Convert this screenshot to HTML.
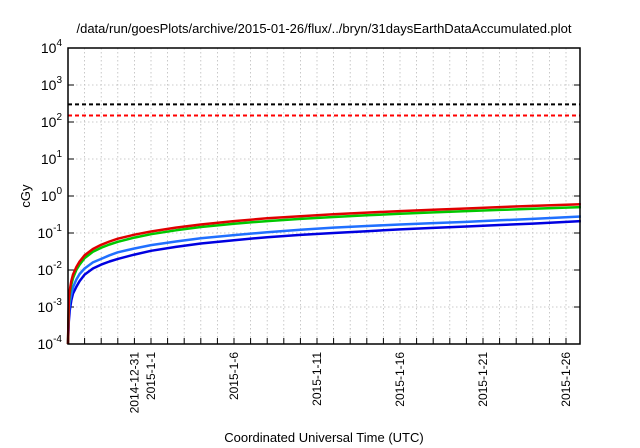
<!DOCTYPE html>
<html><head><meta charset="utf-8"><style>
body{margin:0;background:#fff;}
svg{display:block;font-family:"Liberation Sans",sans-serif;}
</style></head><body>
<svg id="chart" width="640" height="448" viewBox="0 0 640 448" xmlns="http://www.w3.org/2000/svg">
<text x="324" y="33" font-size="13" text-anchor="middle">/data/run/goesPlots/archive/2015-01-26/flux/../bryn/31daysEarthDataAccumulated.plot</text>
<text transform="translate(30,196) rotate(-90)" font-size="13" text-anchor="middle">cGy</text>
<text x="324" y="442" font-size="13" text-anchor="middle">Coordinated Universal Time (UTC)</text>
<g id="grid"></g><g id="ticks"></g><g id="series"></g>
<rect x="68" y="48" width="512" height="296" fill="none" stroke="#000" stroke-width="1.5"/>
</svg>
<script>
const days=[0,0.05,0.1,0.2,0.3,0.5,0.7,1,1.5,2,2.5,3,4,5,6.5,8,10,12,14,16,18,20,22,24,26,28,30.9];
const redSeries=[0.0001,0.0015,0.0028,0.005,0.0075,0.012,0.017,0.025,0.037,0.048,0.059,0.07,0.09,0.11,0.14,0.17,0.21,0.25,0.285,0.32,0.355,0.39,0.425,0.46,0.5,0.54,0.6];
const greenSeries=[0.0001,0.0012,0.0022,0.004,0.006,0.01,0.014,0.021,0.031,0.04,0.049,0.058,0.075,0.093,0.118,0.145,0.178,0.21,0.24,0.27,0.3,0.33,0.36,0.39,0.42,0.45,0.5];
const lightBlueSeries=[0.0001,0.0007,0.0013,0.0022,0.0034,0.0055,0.0078,0.011,0.016,0.02,0.025,0.03,0.038,0.047,0.059,0.072,0.088,0.105,0.122,0.14,0.155,0.17,0.185,0.2,0.22,0.24,0.28];
const darkBlueSeries=[0.0001,0.0004,0.0008,0.0015,0.0023,0.0035,0.005,0.0075,0.011,0.014,0.017,0.02,0.026,0.033,0.042,0.052,0.064,0.077,0.089,0.1,0.112,0.125,0.137,0.15,0.165,0.18,0.21];
const thresholds=[300,150];
const yExps=[-4,-3,-2,-1,0,1,2,3,4];
const xLabels=[[4,"2014-12-31"],[5,"2015-1-1"],[10,"2015-1-6"],[15,"2015-1-11"],[20,"2015-1-16"],[25,"2015-1-21"],[30,"2015-1-26"]];
const NS="http://www.w3.org/2000/svg";
const L=68,R=580,T=48,B=344;
const perDay=16.6;
function xs(d){return L+d*perDay;}
function ys(v){return T+(4-Math.log10(v))*(B-T)/8;}
function mk(tag,attrs,parent){const e=document.createElementNS(NS,tag);for(const k in attrs)e.setAttribute(k,attrs[k]);document.getElementById(parent).appendChild(e);return e;}
for(let d=1;d<=30;d++){
 const x=xs(d);
 const g=mk('line',{x1:x,x2:x,y1:T,y2:B,stroke:'#bbb','stroke-width':0.8,'stroke-dasharray':'1.5,2.5'},'grid');
 
 
 const t=mk('line',{x1:x,x2:x,y1:B,y2:B-6,stroke:'#000','stroke-width':1},'ticks');
 
 
}
yExps.forEach(e=>{
 const y=ys(Math.pow(10,e));
 if(e>-4&&e<4){const g=mk('line',{x1:L,x2:R,y1:y,y2:y,stroke:'#bbb','stroke-width':0.8,'stroke-dasharray':'1.5,2.5'},'grid');
 
 
 const t1=mk('line',{x1:L,x2:L+6,y1:y,y2:y,stroke:'#000'},'ticks');
 
 
 const t2=mk('line',{x1:R,x2:R-6,y1:y,y2:y,stroke:'#000'},'ticks');
 
 }
 const tx=mk('text',{x:L-6,y:y+5,'font-size':14,'text-anchor':'end'},'ticks');
 
 
 tx.textContent='10';
 const s=document.createElementNS(NS,'tspan');s.setAttribute('dy','-7');s.setAttribute('font-size','10');s.textContent=String(e);tx.appendChild(s);
});
xLabels.forEach(([d,lab])=>{
 const x=xs(d)+4;
 const tx=mk('text',{transform:`translate(${x},352) rotate(-90)`,'font-size':12,'text-anchor':'end'},'ticks');
 
 
 tx.textContent=lab;
});
const thColors=['#000','#f00'];
thresholds.forEach((v,i)=>{
 const y=ys(v);
 const l=mk('line',{x1:L,x2:R,y1:y,y2:y,stroke:thColors[i],'stroke-width':2,'stroke-dasharray':'4,3'},'series');
 
 
});
const series=[[darkBlueSeries,'#0000e0','dark-blue-series'],[lightBlueSeries,'#2070ff','light-blue-series'],[greenSeries,'#00c800','green-series'],[redSeries,'#e00000','red-series']];
series.forEach(([vals,col,name])=>{
 const d=vals.map((v,i)=>(i?'L':'M')+xs(days[i]).toFixed(1)+','+ys(v).toFixed(1)).join(' ');
 const p=mk('path',{d:d,fill:'none',stroke:col,'stroke-width':2.5,'stroke-linejoin':'round'},'series');
 
 
});
</script>
</body></html>
